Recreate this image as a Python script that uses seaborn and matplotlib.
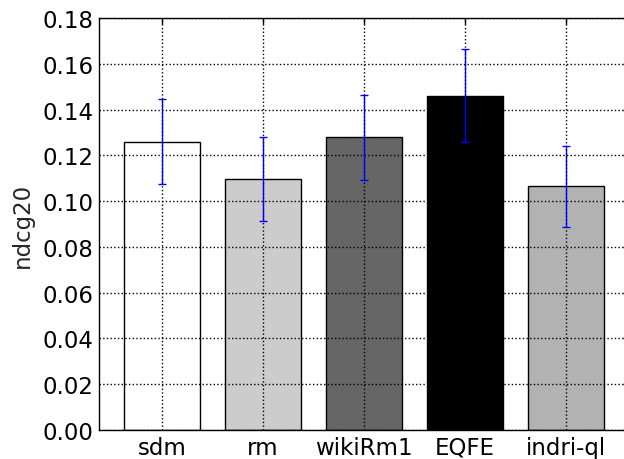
import matplotlib
matplotlib.use("Agg")
import matplotlib.pyplot as plt
import seaborn as sns
import pandas as pd

systems = ["sdm", "rm", "wikiRm1", "EQFE", "indri-ql"]
ndcg20 = [0.1260, 0.1095, 0.1278, 0.1460, 0.1064]
errors = [0.0187, 0.0183, 0.0187, 0.0203, 0.0178]
bar_colors = ["#ffffff", "#cccccc", "#666666", "#000000", "#b2b2b2"]
yticks = [0.00, 0.02, 0.04, 0.06, 0.08, 0.10, 0.12, 0.14, 0.16, 0.18]

sns.set_style("white")
plt.rcParams["font.family"] = ["DejaVu Sans"]

df = pd.DataFrame({"system": systems, "ndcg20": ndcg20})

fig = plt.figure(figsize=(6.24, 4.6), dpi=100)
ax = fig.add_axes([99 / 624, 29 / 460, 530 / 624, 412 / 460])

sns.barplot(data=df, x="system", y="ndcg20", hue="system",
            palette=bar_colors, order=systems, hue_order=systems,
            width=0.75, edgecolor="black", linewidth=1.0,
            legend=False, ax=ax, saturation=1)
ax.errorbar(range(len(systems)), ndcg20, yerr=errors, fmt="none",
            ecolor="blue", elinewidth=1.0, capsize=3, capthick=1.0, zorder=5)

ax.set_xlim(-0.624, len(systems) - 1 + 0.624)
ax.set_ylim(0, 0.18)
ax.set_yticks(yticks)
ax.set_yticklabels([f"{v:.2f}" for v in yticks])
ax.set_xlabel("")
ax.set_ylabel("ndcg20", fontsize=16.5, labelpad=6)
ax.set_axisbelow(False)
ax.grid(True, color="black", linestyle=":", linewidth=1.0)
ax.tick_params(axis="both", direction="in", length=4, width=1,
               labelsize=16.5, top=True, right=True, colors="black")
ax.tick_params(axis="x", pad=4)
ax.tick_params(axis="y", pad=4)
for s in ax.spines.values():
    s.set_visible(True)
    s.set_color("black")
    s.set_linewidth(1.0)

fig.savefig("out.png", dpi=100)
